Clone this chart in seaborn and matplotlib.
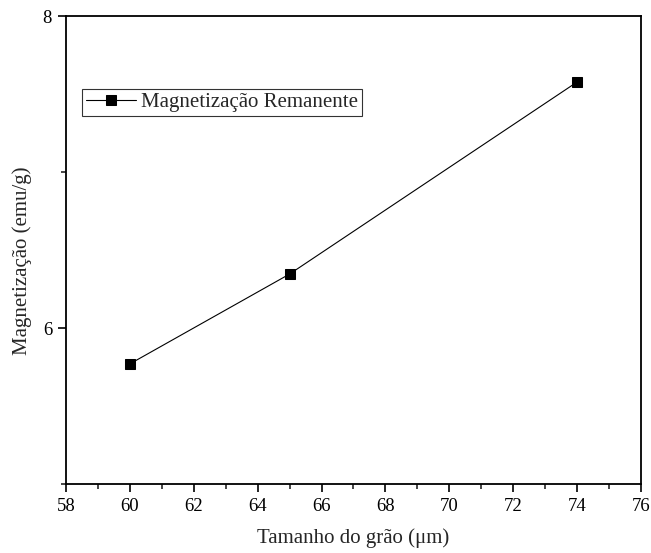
import matplotlib
matplotlib.use("Agg")
import matplotlib.pyplot as plt
from matplotlib.ticker import MultipleLocator
import seaborn as sns
import pandas as pd

grain_size = [60, 65, 74]
magnetization = [5.77, 6.346, 7.577]
series_name = "Magnetização Remanente"

sns.set_style("ticks")
plt.rcParams["font.family"] = ["Liberation Serif", "DejaVu Serif"]

df = pd.DataFrame({"x": grain_size, "y": magnetization, "s": series_name})

fig = plt.figure(figsize=(6.51, 5.53), dpi=100)
ax = fig.add_axes([0.1014, 0.1248, 0.8832, 0.8462])

sns.lineplot(data=df, x="x", y="y", hue="s", palette=["black"], marker="s",
             markersize=7.5, markeredgecolor="black", linewidth=0.8, ax=ax)

ax.set_xlim(58, 76)
ax.set_ylim(5, 8)
ax.xaxis.set_major_locator(MultipleLocator(2))
ax.xaxis.set_minor_locator(MultipleLocator(1))
ax.yaxis.set_major_locator(MultipleLocator(2))
ax.yaxis.set_minor_locator(MultipleLocator(1))
ax.tick_params(which="major", direction="out", length=6, width=1.2, labelsize=13.5,
               colors="black", pad=4)
ax.tick_params(which="minor", direction="out", length=3.5, width=1.2)
for s in ax.spines.values():
    s.set_linewidth(1.3)
    s.set_color("black")

ax.set_xlabel("Tamanho do grão (μm)", fontsize=15, labelpad=10)
ax.set_ylabel("Magnetização (emu/g)", fontsize=15, labelpad=8)
ax.yaxis.label.set_y(0.476)

leg = ax.legend(loc="upper left", bbox_to_anchor=(0.027, 0.845), fontsize=15,
                frameon=True, fancybox=False, edgecolor="black", handlelength=2.4,
                handletextpad=0.25, borderpad=0.2, borderaxespad=0)
leg.get_frame().set_linewidth(0.8)

fig.savefig("out.png", dpi=100)
